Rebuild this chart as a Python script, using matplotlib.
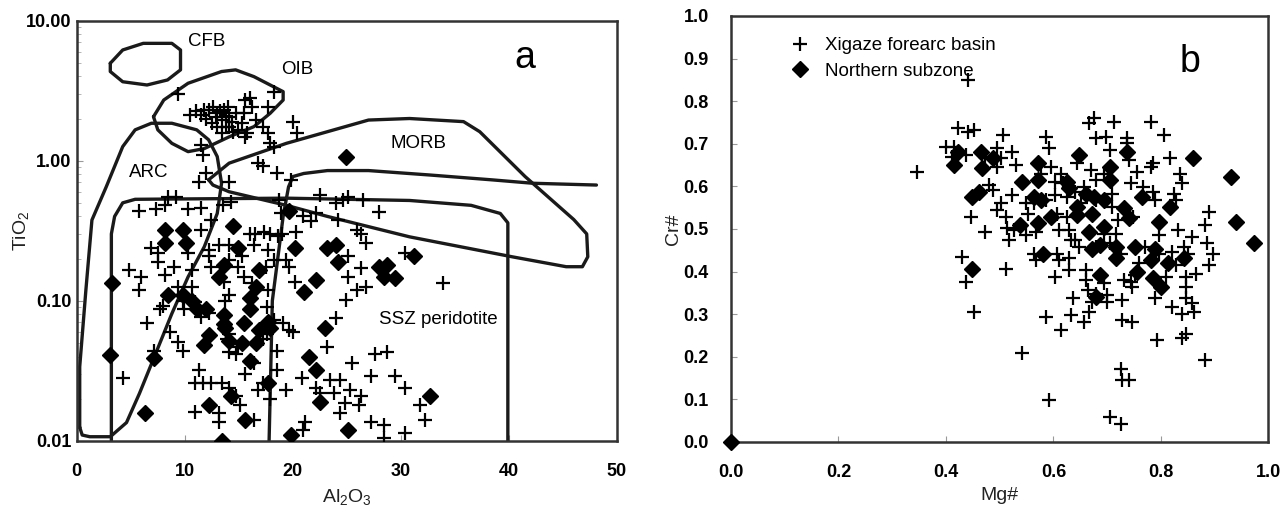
import numpy as np
import matplotlib
matplotlib.use("Agg")
import matplotlib.pyplot as plt

plt.rcParams['font.family'] = ['Liberation Sans', 'DejaVu Sans']
plt.rcParams['mathtext.default'] = 'regular'

# ---- panel a: Al2O3 vs TiO2 (spinel) ----
al_cross = [9.4, 10.5, 11.5, 11.8, 12.6, 13.0, 13.6, 14.0, 13.4, 13.8, 14.1, 14.7, 15.6, 16.0, 16.2, 15.5,
            15.3, 15.8, 14.9, 14.1, 13.0, 16.6, 17.2, 17.7, 18.3, 17.7, 17.9, 18.3, 20.0, 20.4, 15.6, 13.4,
            12.2, 12.0, 12.9, 13.3, 14.4, 11.0, 13.8, 12.5, 14.5,
            11.5, 11.7, 11.3, 12.0, 14.1, 14.3, 13.5, 16.8, 17.2, 18.5, 19.8, 18.7, 18.9, 20.9, 21.7, 22.5,
            22.1, 24.0, 24.6, 25.1, 26.5, 28.0, 24.2, 25.9, 26.3, 26.8, 25.1, 26.3, 25.1, 25.9, 26.8, 30.4,
            33.9, 24.9, 24.0, 23.2, 27.6, 28.7, 25.5, 27.2, 29.5, 30.4, 24.4, 23.4, 22.5, 23.8, 25.3, 26.3,
            24.8, 26.1, 24.4, 27.2, 28.4, 32.2, 31.8, 30.4, 28.4, 21.1, 20.9, 20.8, 22.1,
            5.8, 7.3, 8.2, 8.4, 9.2, 10.3, 11.5, 12.4, 11.5, 6.9, 7.5, 7.5, 8.2, 5.9, 4.8, 5.8, 9.0, 10.3,
            10.7, 9.4, 10.7, 12.2, 12.2, 12.4, 14.1, 15.3, 14.9, 14.1, 13.2, 16.0, 16.4, 17.7, 18.3, 19.4,
            19.6, 17.5, 15.5, 13.6, 16.2, 17.7, 20.2, 14.1, 13.7, 7.7, 8.0, 9.9, 9.8, 11.3, 11.5, 10.9, 12.2,
            6.5, 8.6, 7.1, 9.4, 9.8, 4.3, 14.1, 13.9, 14.1, 14.9, 14.7, 17.2, 17.6, 19.1, 19.6, 20.0, 18.5,
            17.6, 18.3, 11.3, 10.9, 11.7, 12.4, 13.4, 14.1, 14.7, 15.1, 10.9, 13.2, 13.2, 16.4, 16.8, 17.9,
            17.2, 18.5, 19.4, 15.6, 16.4, 16.5, 17.3, 17.9, 18.6, 19.0, 20.3]
ti_cross = [2.98, 2.12, 2.12, 2.30, 2.43, 2.18, 2.30, 2.43, 1.95, 1.75, 2.06, 2.18, 2.71, 2.78, 2.43, 2.18,
            1.85, 1.57, 1.66, 1.75, 1.75, 1.95, 1.75, 2.43, 3.11, 1.57, 1.33, 1.26, 1.90, 1.57, 1.48, 1.57,
            2.30, 2.00, 2.05, 2.25, 1.90, 2.25, 2.10, 1.85, 1.60,
            1.29, 1.10, 0.71, 0.81, 0.71, 0.51, 0.48, 0.96, 0.91, 0.81, 0.73, 0.52, 0.42, 0.40, 0.37, 0.57,
            0.42, 0.50, 0.52, 0.55, 0.52, 0.43, 0.38, 0.32, 0.30, 0.26, 0.21, 0.17, 0.148, 0.119, 0.126, 0.218,
            0.133, 0.101, 0.075, 0.047, 0.042, 0.043, 0.036, 0.029, 0.029, 0.024, 0.027, 0.027, 0.022, 0.022, 0.023, 0.021,
            0.0185, 0.018, 0.0157, 0.0137, 0.013, 0.014, 0.018, 0.0113, 0.0104, 0.0137, 0.012, 0.028, 0.024,
            0.44, 0.45, 0.48, 0.55, 0.55, 0.45, 0.46, 0.38, 0.32, 0.24, 0.22, 0.19, 0.152, 0.148, 0.166, 0.119, 0.175, 0.22,
            0.166, 0.126, 0.126, 0.23, 0.21, 0.175, 0.195, 0.21, 0.175, 0.25, 0.25, 0.30, 0.25, 0.23, 0.195, 0.195,
            0.175, 0.175, 0.148, 0.137, 0.133, 0.119, 0.137, 0.11, 0.10, 0.088, 0.091, 0.088, 0.10, 0.086, 0.077, 0.098, 0.082,
            0.069, 0.060, 0.044, 0.051, 0.044, 0.028, 0.058, 0.053, 0.043, 0.047, 0.042, 0.053, 0.058, 0.069, 0.062, 0.060, 0.044,
            0.090, 0.073, 0.032, 0.026, 0.026, 0.026, 0.026, 0.024, 0.021, 0.018, 0.016, 0.0157, 0.0137, 0.014, 0.023, 0.020,
            0.026, 0.032, 0.023, 0.030, 0.036, 0.30, 0.31, 0.30, 0.29, 0.30, 0.31]

al_dia = [24.9, 19.6, 14.5, 8.2, 9.8, 8.2, 10.1, 14.9, 20.2, 23.2, 24.0, 24.2, 31.2, 28.0, 28.7, 28.4, 29.5,
          22.1, 13.6, 13.2, 16.9, 16.6, 21.0, 16.0, 16.0, 8.4, 9.8, 10.7, 11.1, 12.0, 13.6, 13.6, 13.7, 15.5,
          17.7, 17.9, 16.9, 23.0, 3.3, 3.1, 7.1, 12.2, 11.8, 14.1, 15.3, 16.6, 16.0, 21.5, 22.1, 17.7, 14.3,
          12.2, 22.5, 32.7, 6.3, 15.6, 25.1, 13.4, 19.8]
ti_dia = [1.07, 0.44, 0.34, 0.32, 0.32, 0.26, 0.26, 0.24, 0.24, 0.24, 0.25, 0.19, 0.21, 0.175, 0.18, 0.148, 0.145,
          0.14, 0.18, 0.148, 0.166, 0.126, 0.116, 0.104, 0.088, 0.11, 0.11, 0.10, 0.088, 0.088, 0.079, 0.068, 0.064, 0.069,
          0.071, 0.064, 0.062, 0.064, 0.133, 0.041, 0.039, 0.057, 0.048, 0.052, 0.050, 0.050, 0.037, 0.040, 0.032, 0.026, 0.021,
          0.018, 0.019, 0.021, 0.0157, 0.014, 0.012, 0.0100, 0.011]

# field outlines (Al2O3, TiO2)
cfb_x = [3.1, 4.25, 6.15, 8.8, 9.6, 9.6, 8.4, 6.5, 4.25, 3.1, 3.1]
cfb_y = [4.96, 6.17, 6.88, 6.88, 6.17, 4.45, 3.77, 3.47, 3.66, 4.33, 4.96]
oib_x = [7.1, 8.05, 10.3, 13.4, 14.7, 16.4, 17.9, 19.1, 19.1, 17.9, 16.4, 14.1, 11.8, 10.3, 8.8, 7.5, 7.1]
oib_y = [2.06, 2.71, 3.57, 4.33, 4.45, 3.98, 3.47, 3.11, 2.71, 2.18, 1.75, 1.48, 1.22, 1.16, 1.33, 1.66, 2.06]
arc_x = [0.27, 0.27, 0.84, 1.4, 2.73, 4.25, 5.4, 6.9, 8.8, 11.1, 12.2, 13.0, 13.4, 13.0, 11.8, 10.3, 8.8,
         7.3, 5.8, 4.6, 3.1, 1.2, 0.5, 0.27]
arc_y = [0.0125, 0.0338, 0.119, 0.377, 0.652, 1.26, 1.66, 1.85, 1.85, 1.66, 1.41, 1.07, 0.69, 0.42, 0.243, 0.148,
         0.081, 0.042, 0.0218, 0.0135, 0.0107, 0.0107, 0.011, 0.0125]
morb_x = [12.2, 14.1, 19.4, 27.0, 30.8, 35.8, 37.3, 41.5, 46.0, 47.2, 47.3, 46.8, 45.3, 40.3, 30.8, 23.2,
          19.4, 14.1, 12.6, 12.2]
morb_y = [0.73, 0.96, 1.33, 1.95, 2.0, 1.90, 1.61, 0.77, 0.38, 0.30, 0.206, 0.175, 0.175, 0.206, 0.286, 0.40,
          0.48, 0.60, 0.67, 0.73]
ssz_x = [3.2, 3.2, 3.5, 4.25, 5.4, 19.4, 30.8, 36.5, 39.2, 39.9, 39.9]
ssz_y = [0.01, 0.30, 0.40, 0.50, 0.53, 0.54, 0.52, 0.48, 0.42, 0.36, 0.01]
ssz2_x = [17.8, 18.1, 19.1, 19.6, 20.0, 21.0, 23.2, 27.0, 32.7, 38.4, 42.2, 48.1]
ssz2_y = [0.01, 0.1, 0.40, 0.65, 0.77, 0.81, 0.85, 0.85, 0.79, 0.73, 0.69, 0.67]

# ---- panel b: Mg# vs Cr# ----
mg_cross = [0.442, 0.423, 0.442, 0.453, 0.400, 0.415, 0.411, 0.438, 0.346, 0.507, 0.522, 0.472, 0.495, 0.488,
            0.503, 0.495, 0.530, 0.480, 0.488, 0.495, 0.503, 0.511, 0.514, 0.518, 0.526, 0.511, 0.472, 0.446,
            0.430, 0.438, 0.453, 0.522, 0.549, 0.553, 0.549, 0.568, 0.587, 0.591, 0.595, 0.614, 0.618, 0.602,
            0.606, 0.625, 0.610, 0.629, 0.633, 0.606, 0.610, 0.602, 0.629, 0.629, 0.564, 0.568, 0.587, 0.591,
            0.541, 0.614, 0.633, 0.637, 0.656, 0.667, 0.660, 0.664, 0.667, 0.675, 0.679, 0.698, 0.644, 0.670,
            0.679, 0.656, 0.652, 0.679, 0.709, 0.706, 0.713, 0.736, 0.736, 0.740, 0.744, 0.755, 0.767, 0.782,
            0.786, 0.782, 0.805, 0.817, 0.786, 0.789, 0.824, 0.828, 0.836, 0.839, 0.832, 0.858, 0.881, 0.889,
            0.885, 0.897, 0.889, 0.866, 0.847, 0.851, 0.820, 0.843, 0.828, 0.809, 0.797, 0.797, 0.771, 0.759,
            0.751, 0.744, 0.732, 0.747, 0.728, 0.728, 0.747, 0.789, 0.793, 0.820, 0.839, 0.847, 0.847, 0.858,
            0.862, 0.839, 0.847, 0.881, 0.725, 0.728, 0.740, 0.706, 0.725, 0.694, 0.700, 0.700, 0.679, 0.671,
            0.660, 0.679, 0.694, 0.706, 0.717, 0.725, 0.721, 0.748, 0.709, 0.694, 0.641, 0.625, 0.602, 0.587,
            0.564, 0.576, 0.641, 0.648]
cr_cross = [0.850, 0.736, 0.728, 0.732, 0.693, 0.693, 0.670, 0.673, 0.634, 0.720, 0.681, 0.670, 0.689, 0.666,
            0.666, 0.646, 0.650, 0.603, 0.591, 0.544, 0.560, 0.529, 0.501, 0.474, 0.497, 0.407, 0.493, 0.529,
            0.435, 0.376, 0.305, 0.579, 0.560, 0.536, 0.486, 0.493, 0.716, 0.689, 0.646, 0.630, 0.607, 0.611,
            0.536, 0.529, 0.497, 0.497, 0.474, 0.442, 0.427, 0.388, 0.431, 0.403, 0.442, 0.427, 0.294, 0.098,
            0.208, 0.262, 0.298, 0.337, 0.282, 0.305, 0.380, 0.356, 0.748, 0.760, 0.713, 0.716, 0.654, 0.638,
            0.615, 0.599, 0.560, 0.568, 0.583, 0.685, 0.752, 0.713, 0.701, 0.662, 0.607, 0.634, 0.599, 0.752,
            0.654, 0.646, 0.720, 0.666, 0.587, 0.568, 0.583, 0.568, 0.630, 0.607, 0.497, 0.482, 0.509, 0.540,
            0.466, 0.442, 0.415, 0.395, 0.388, 0.442, 0.446, 0.458, 0.415, 0.388, 0.442, 0.486, 0.458, 0.419,
            0.392, 0.376, 0.380, 0.364, 0.333, 0.286, 0.282, 0.337, 0.239, 0.317, 0.301, 0.337, 0.364, 0.325,
            0.305, 0.243, 0.254, 0.192, 0.172, 0.145, 0.145, 0.059, 0.043, 0.372, 0.345, 0.329, 0.348, 0.329,
            0.403, 0.458, 0.489, 0.466, 0.489, 0.442, 0.521, 0.529, 0.552, 0.630, 0.587, 0.576, 0.579, 0.568,
            0.560, 0.630, 0.474, 0.458]

mg_dia = [0.0, 0.415, 0.423, 0.465, 0.467, 0.488, 0.448, 0.461, 0.448, 0.541, 0.537, 0.572, 0.572, 0.564,
          0.576, 0.572, 0.595, 0.580, 0.625, 0.629, 0.648, 0.660, 0.644, 0.644, 0.671, 0.667, 0.671, 0.687,
          0.694, 0.694, 0.706, 0.706, 0.736, 0.717, 0.717, 0.732, 0.740, 0.765, 0.751, 0.755, 0.782, 0.786,
          0.789, 0.797, 0.801, 0.817, 0.679, 0.687, 0.859, 0.843, 0.813, 0.931, 0.939, 0.973, 0.675]
cr_dia = [0.0, 0.650, 0.681, 0.681, 0.642, 0.666, 0.576, 0.587, 0.407, 0.611, 0.509, 0.654, 0.615, 0.576,
          0.568, 0.513, 0.529, 0.442, 0.611, 0.595, 0.673, 0.583, 0.552, 0.532, 0.536, 0.493, 0.454, 0.462,
          0.568, 0.505, 0.615, 0.646, 0.681, 0.458, 0.431, 0.548, 0.525, 0.576, 0.458, 0.399, 0.427, 0.384,
          0.454, 0.517, 0.364, 0.552, 0.341, 0.392, 0.666, 0.431, 0.419, 0.623, 0.517, 0.466, 0.576]

line_col = '#1a1a1a'
fig = plt.figure(figsize=(12.8, 5.15), dpi=100)
ax1 = fig.add_axes([0.060, 0.144, 0.422, 0.816])
ax2 = fig.add_axes([0.571, 0.142, 0.420, 0.827])

# panel a
for xs, ys in [(cfb_x, cfb_y), (oib_x, oib_y), (arc_x, arc_y), (morb_x, morb_y),
               (ssz_x, ssz_y), (ssz2_x, ssz2_y)]:
    ax1.plot(xs, ys, color=line_col, lw=2.4, solid_joinstyle='round', solid_capstyle='round', zorder=2)
ax1.plot(al_cross, ti_cross, '+', color='black', ms=10.5, mew=1.6, zorder=3)
ax1.plot(al_dia, ti_dia, 'D', color='black', ms=8.5, zorder=4)
ax1.set_yscale('log')
ax1.set_xlim(0, 50)
ax1.set_ylim(0.01, 10)
ax1.set_xticks([0, 10, 20, 30, 40, 50])
ax1.set_yticks([0.01, 0.1, 1, 10])
ax1.set_yticklabels(['0.01', '0.10', '1.00', '10.00'])
ax1.set_xlabel('Al$_2$O$_3$', fontsize=14, color='#222222')
ax1.set_ylabel('TiO$_2$', fontsize=14, color='#222222')
ax1.xaxis.set_label_coords(0.5, -0.11)
ax1.yaxis.set_label_coords(-0.085, 0.5)
ax1.text(12.0, 7.1, 'CFB', fontsize=13.5, ha='center', va='center')
ax1.text(20.4, 4.45, 'OIB', fontsize=13.5, ha='center', va='center')
ax1.text(31.6, 1.33, 'MORB', fontsize=13.5, ha='center', va='center')
ax1.text(6.7, 0.83, 'ARC', fontsize=13.5, ha='center', va='center')
ax1.text(33.5, 0.073, 'SSZ peridotite', fontsize=13.5, ha='center', va='center')
ax1.text(41.5, 5.4, 'a', fontsize=27, ha='center', va='center')

# panel b
ax2.plot(mg_cross, cr_cross, '+', color='black', ms=10.5, mew=1.6, zorder=3, clip_on=False,
         label='Xigaze forearc basin')
ax2.plot(mg_dia, cr_dia, 'D', color='black', ms=8.5, zorder=4, clip_on=False,
         label='Northern subzone')
ax2.set_xlim(0, 1)
ax2.set_ylim(0, 1)
ax2.set_xticks(np.arange(0, 1.01, 0.2))
ax2.set_yticks(np.arange(0, 1.01, 0.1))
ax2.set_xticklabels(['0.0', '0.2', '0.4', '0.6', '0.8', '1.0'])
ax2.set_yticklabels(['%.1f' % v for v in np.arange(0, 1.01, 0.1)])
ax2.set_xlabel('Mg#', fontsize=14, color='#222222')
ax2.set_ylabel('Cr#', fontsize=14, color='#222222')
ax2.xaxis.set_label_coords(0.5, -0.105)
ax2.yaxis.set_label_coords(-0.09, 0.5)
ax2.legend(loc='upper left', bbox_to_anchor=(0.07, 0.99), frameon=False, fontsize=13.5,
           handletextpad=0.5, labelspacing=0.45, markerscale=1.0, handlelength=1.6)
ax2.text(0.855, 0.893, 'b', fontsize=27, ha='center', va='center')

for ax in (ax1, ax2):
    for s in ax.spines.values():
        s.set_linewidth(1.8)
        s.set_color('#333333')
    ax.tick_params(which='major', direction='in', length=4, width=0.8, color='#999999',
                   labelsize=13)
    ax.tick_params(which='minor', direction='in', length=3, width=0.6, color='#aaaaaa')
    ax.tick_params(axis='x', pad=16)
    for lab in ax.get_xticklabels() + ax.get_yticklabels():
        lab.set_fontweight('bold')
ax1.tick_params(axis='y', pad=4)
ax2.tick_params(axis='y', pad=16)
ax1.tick_params(axis='x', which='minor', bottom=False)

fig.savefig('out.png', dpi=100)
